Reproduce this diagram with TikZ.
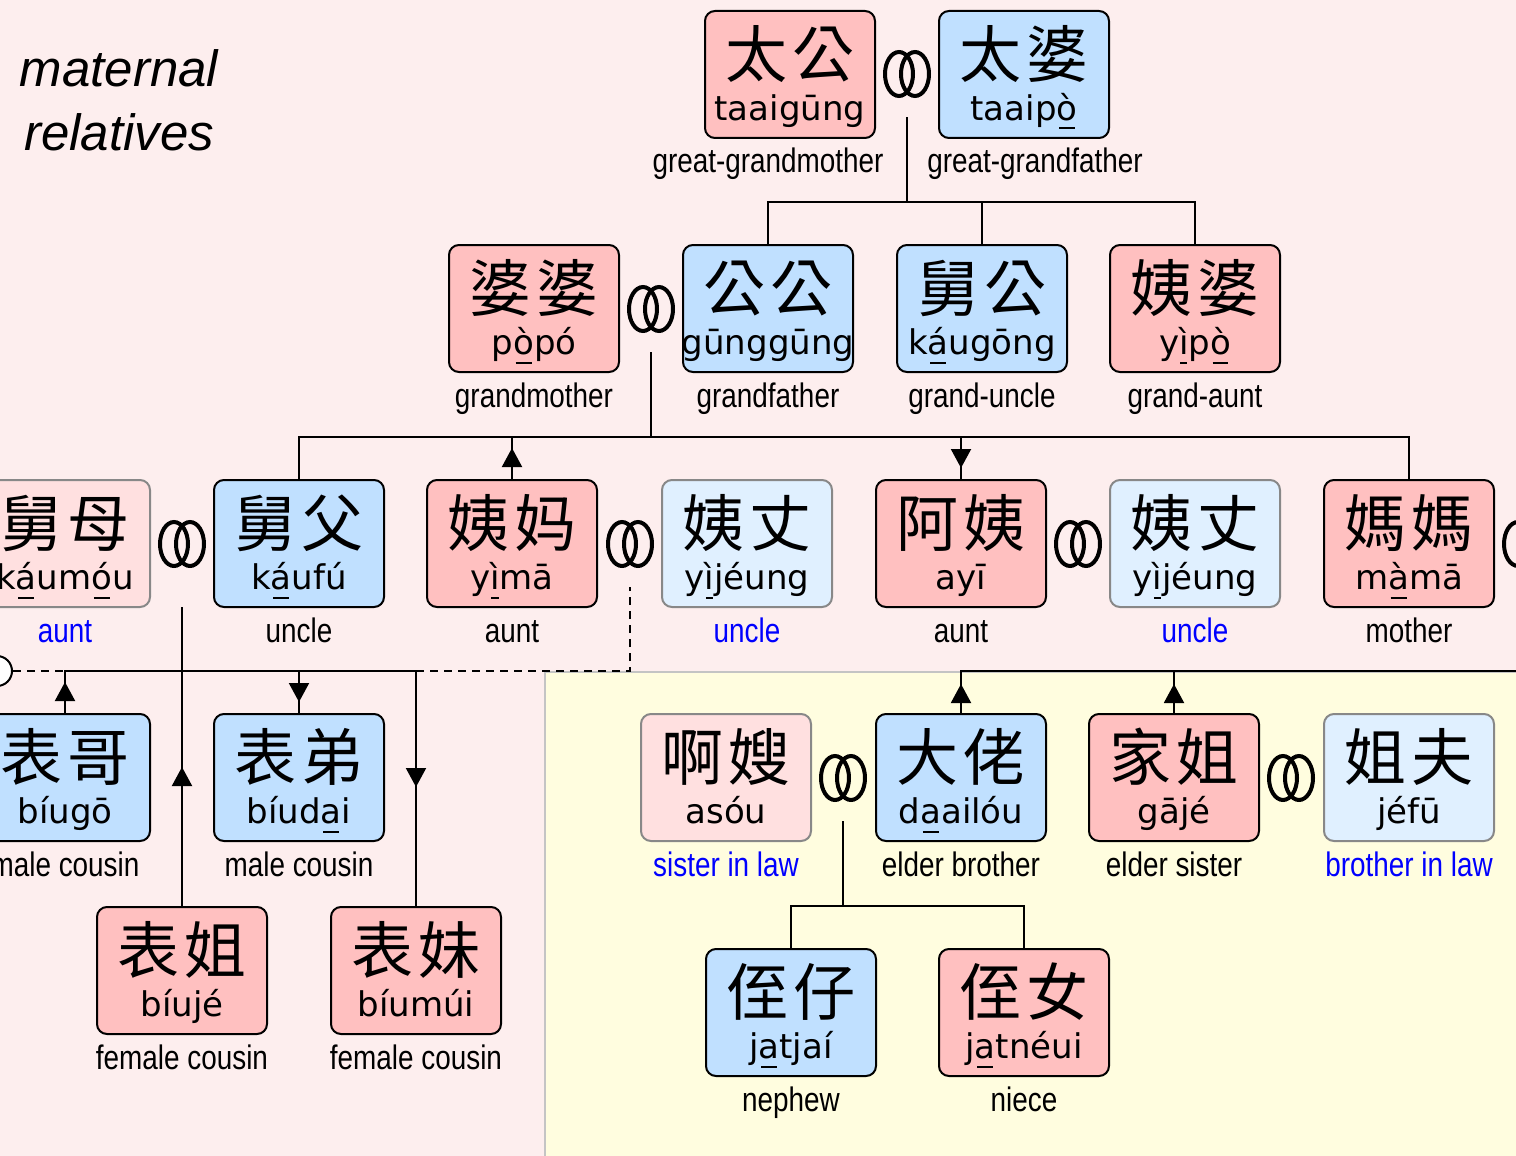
\documentclass[tikz,border=0pt]{standalone}
\usepackage{fontspec}
\setmainfont{Liberation Sans}
\newfontfamily\cjkf{Noto Sans CJK TC}
\newfontfamily\romf{DejaVu Sans}
\newfontfamily\narf[FakeStretch=0.82]{Liberation Sans}
\usetikzlibrary{arrows.meta}

\definecolor{bgpink}{HTML}{FDEEEE}
\definecolor{bgyel}{HTML}{FFFDDF}
\definecolor{pinkbox}{HTML}{FFC0C0}
\definecolor{bluebox}{HTML}{C0E0FF}
\definecolor{lpinkbox}{HTML}{FFE0E0}
\definecolor{lbluebox}{HTML}{E0F0FF}
\definecolor{inlawgray}{HTML}{888888}
\definecolor{regiongray}{HTML}{C4C4C4}

\newsavebox\ulcbox
\newcommand\ulc[1]{\sbox\ulcbox{#1}\rlap{\hspace{0.12\wd\ulcbox}\rule[-4.5pt]{0.76\wd\ulcbox}{1pt}}\usebox\ulcbox}
\newcommand\cc[2]{#1\hspace{3pt}#2}

\tikzset{
 pbox/.style={draw=black, line width=1pt, rounded corners=5pt, minimum width=85pt, minimum height=63.5pt, inner sep=0pt},
 pk/.style={pbox, fill=pinkbox},
 bl/.style={pbox, fill=bluebox},
 lpk/.style={pbox, fill=lpinkbox, draw=inlawgray},
 lbl/.style={pbox, fill=lbluebox, draw=inlawgray},
 cjk/.style={font=\cjkf\fontsize{31pt}{31pt}\selectfont, inner sep=0pt},
 rom/.style={font=\romf\fontsize{17pt}{20pt}\selectfont, inner sep=0pt, anchor=base},
 lab/.style={font=\narf\fontsize{17pt}{20pt}\selectfont, inner sep=0pt, anchor=base},
 inlaw/.style={text=blue},
 conn/.style={line width=1pt},
 arr/.style={line width=1pt, -{Triangle[length=9.5pt,width=10pt]}},
 dashline/.style={line width=1pt, dash pattern=on 4pt off 3pt},
 ringline/.style={line width=2pt},
 title/.style={font=\fontsize{25.5pt}{30pt}\selectfont\itshape, inner sep=0pt, anchor=base},
}

% name, cx, top, style, cjk, romanization, label, label style, label x
\newcommand\person[9]{%
 \node[#4] (#1) at (#2,#3+63.5) {};
 \node[cjk] (#1c) at (#2,#3+43) {#5};
 \node[rom] (#1r) at (#2,#3+109.5) {#6};
 \node[lab,#8] (#1l) at (#9,#3+162) {#7};
}
% name, x, y
\newcommand\rings[3]{%
 \node[inner sep=0pt, minimum width=23.5pt, minimum height=43pt] (#1) at (#2,#3) {};
 \draw[ringline] ([xshift=-4pt]#1.center) ellipse [x radius=7pt, y radius=11pt];
 \draw[ringline] ([xshift=4pt]#1.center) ellipse [x radius=7pt, y radius=11pt];
}

\begin{document}
\begin{tikzpicture}[x=0.5pt, y=-0.5pt]
\path[use as bounding box] (0,0) rectangle (1516,1156);
\clip (0,0) rectangle (1516,1156);
\fill[bgpink] (0,0) rectangle (1516,1156);
\filldraw[fill=bgyel, draw=regiongray, line width=1pt] (545,672) rectangle (1540,1180);

\node[title] (t1) at (119,87) {maternal};
\node[title] (t2) at (119,150) {relatives};

% row 1
\person{taigung}{790}{11}{pk}{\cc{太}{公}}{taaigūng}{great-grandmother}{}{768}
\person{taipo}{1024}{11}{bl}{\cc{太}{婆}}{taaip\ulc{ò}}{great-grandfather}{}{1035}
\rings{r1}{907}{74}

% row 2
\person{popo}{534}{245}{pk}{\cc{婆}{婆}}{p\ulc{ò}pó}{grandmother}{}{534}
\person{gunggung}{768}{245}{bl}{\cc{公}{公}}{gūnggūng}{grandfather}{}{768}
\person{kaugong}{982}{245}{bl}{\cc{舅}{公}}{k\ulc{á}ugōng}{grand-uncle}{}{982}
\person{yipo}{1195}{245}{pk}{\cc{姨}{婆}}{y\ulc{ì}p\ulc{ò}}{grand-aunt}{}{1195}
\rings{r2}{651}{309}

% row 3
\person{kaumou}{65}{480}{lpk}{\cc{舅}{母}}{k\ulc{á}um\ulc{ó}u}{aunt}{inlaw}{65}
\person{kaufu}{299}{480}{bl}{\cc{舅}{父}}{k\ulc{á}ufú}{uncle}{}{299}
\person{yima}{512}{480}{pk}{\cc{姨}{妈}}{y\ulc{ì}mā}{aunt}{}{512}
\person{yijeungA}{747}{480}{lbl}{\cc{姨}{丈}}{y\ulc{ì}jéung}{uncle}{inlaw}{747}
\person{ayi}{961}{480}{pk}{\cc{阿}{姨}}{ayī}{aunt}{}{961}
\person{yijeungB}{1195}{480}{lbl}{\cc{姨}{丈}}{y\ulc{ì}jéung}{uncle}{inlaw}{1195}
\person{mama}{1409}{480}{pk}{\cc{媽}{媽}}{m\ulc{à}mā}{mother}{}{1409}
\rings{r3}{182}{544}
\rings{r4}{630}{544}
\rings{r5}{1078}{544}
\rings{r6}{1526}{544}

% row 4 left
\person{biugo}{65}{714}{bl}{\cc{表}{哥}}{bíugō}{male cousin}{}{65}
\person{biudai}{299}{714}{bl}{\cc{表}{弟}}{bíud\ulc{a}i}{male cousin}{}{299}
% row 5 left
\person{biuje}{182}{907}{pk}{\cc{表}{姐}}{bíujé}{female cousin}{}{182}
\person{biumui}{416}{907}{pk}{\cc{表}{妹}}{bíumúi}{female cousin}{}{416}

% row 4 right
\person{asou}{726}{714}{lpk}{\cc{啊}{嫂}}{asóu}{sister in law}{inlaw}{726}
\person{daailou}{961}{714}{bl}{\cc{大}{佬}}{d\ulc{a}ailóu}{elder brother}{}{961}
\person{gaje}{1174}{714}{pk}{\cc{家}{姐}}{gājé}{elder sister}{}{1174}
\person{jefu}{1409}{714}{lbl}{\cc{姐}{夫}}{jéfū}{brother in law}{inlaw}{1409}
\rings{r7}{843}{778}
\rings{r8}{1291}{778}

% row 5 right
\person{jatjai}{791}{949}{bl}{\cc{侄}{仔}}{j\ulc{a}tjaí}{nephew}{}{791}
\person{jatneui}{1024}{949}{pk}{\cc{侄}{女}}{j\ulc{a}tnéui}{niece}{}{1024}

\node[circle, draw, fill=white, line width=1pt, minimum size=15pt, inner sep=0pt] (lc) at (-3,671) {};

% connectors row 1 -> row 2
\coordinate (b1) at (907,202);
\draw[conn] (r1.south) -- (b1);
\draw[conn] (gunggung.north) |- (b1) -| (yipo.north);
\draw[conn] (kaugong.north) -- (kaugong.north |- b1);

% row 2 -> row 3
\coordinate (b2) at (651,437);
\draw[conn] (r2.south) -- (b2);
\draw[conn] (kaufu.north) |- (b2) -| (mama.north);
\draw[conn] (yima.north) -- (yima.north |- b2);
\draw[arr] (yima.north) -- ++(0,-31);
\draw[conn] (ayi.north) -- (ayi.north |- b2);
\draw[arr] (ayi.north |- b2) -- ++(0,31);

% row 3 -> cousins
\coordinate (b3) at (65,671);
\coordinate (b3r) at (416,671);
\coordinate (b3d) at (630,671);
\draw[conn] (biugo.north) -- (b3) -- (b3r) -- (biumui.north);
\draw[arr] (biugo.north) -- ++(0,-31);
\draw[conn] (biudai.north) -- (biudai.north |- b3);
\draw[arr] (biudai.north |- b3) -- ++(0,31);
\draw[arr] (b3r) -- ++(0,116);
\draw[conn] ([yshift=-10pt]r3.south) -- (biuje.north);
\draw[arr] (biuje.north) -- ++(0,-139);
\draw[dashline] (lc.east) -- (b3);
\draw[dashline] (b3r) -- (b3d) -- (r4.south);

% siblings
\coordinate (b4) at (1530,671);
\draw[conn] (daailou.north) |- (b4);
\draw[conn] (gaje.north) -- (gaje.north |- b4);
\draw[arr] (daailou.north) -- ++(0,-29);
\draw[arr] (gaje.north) -- ++(0,-29);

% nephew / niece
\coordinate (b5) at (843,906);
\draw[conn] (r7.south) -- (b5);
\draw[conn] (jatjai.north) |- (b5) -| (jatneui.north);
\end{tikzpicture}
\end{document}
